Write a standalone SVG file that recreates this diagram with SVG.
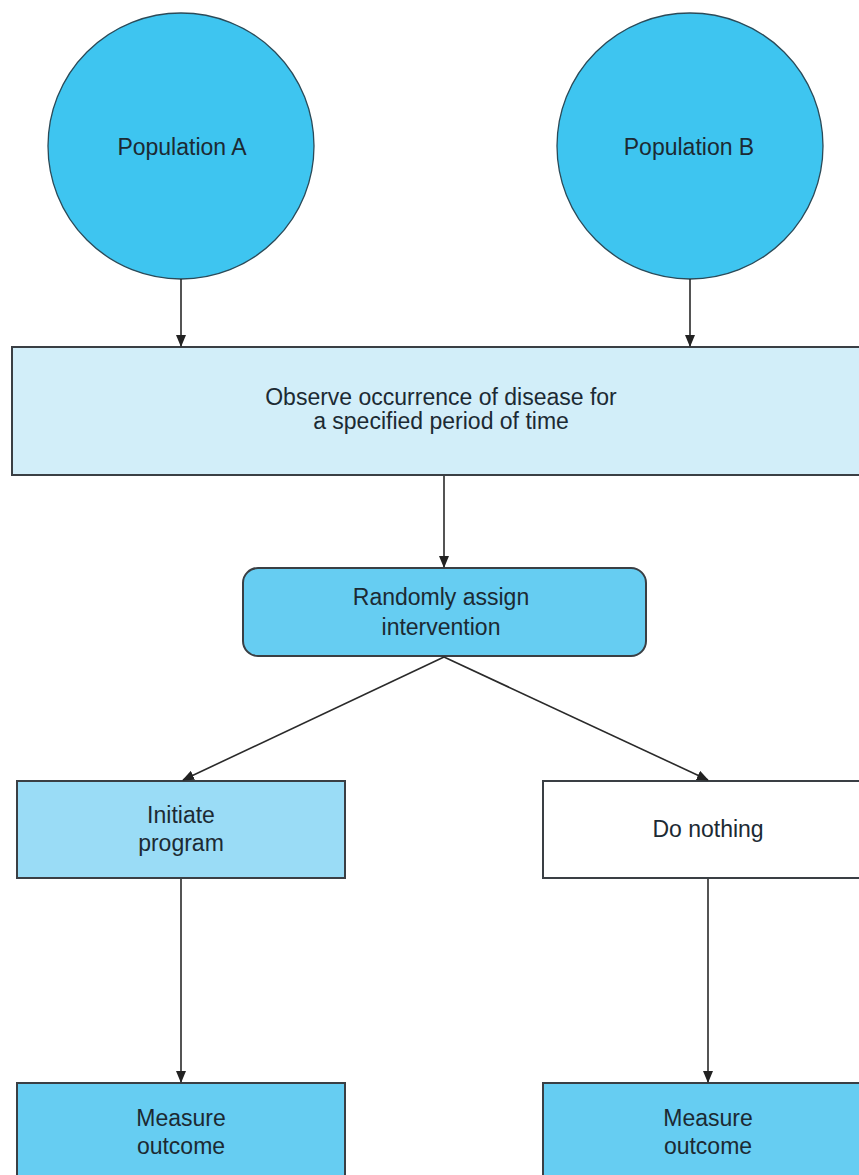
<svg xmlns="http://www.w3.org/2000/svg" width="859" height="1175" viewBox="0 0 859 1175">
<defs>
<marker id="arr" markerWidth="12" markerHeight="10" refX="11" refY="5" orient="auto" markerUnits="userSpaceOnUse" viewBox="0 0 12 10">
<path d="M0,0 L12,5 L0,10 z" fill="#222"/>
</marker>
<style>
.t{font-family:"Liberation Sans",Arial,sans-serif;font-size:23px;fill:#1c2a33;text-anchor:middle}
.box{stroke:#3a3f44;stroke-width:2}
.con{stroke:#2a2a2a;stroke-width:1.6;fill:none;marker-end:url(#arr)}
</style>
</defs>
<rect width="859" height="1175" fill="#ffffff"/>
<g id="popA">
<circle cx="181" cy="146" r="133" fill="#3ec5f0" stroke="#2b4a58" stroke-width="1.3"/>
<text class="t" x="182" y="155">Population A</text>
</g>
<g id="popB">
<circle cx="690" cy="146" r="133" fill="#3ec5f0" stroke="#2b4a58" stroke-width="1.3"/>
<text class="t" x="689" y="155">Population B</text>
</g>
<g id="observe">
<rect class="box" x="12" y="347" width="860" height="128" fill="#d2eef9"/>
<text class="t" x="441" y="405">Observe occurrence of disease for</text>
<text class="t" x="441" y="429">a specified period of time</text>
</g>
<g id="randomly">
<rect class="box" x="243" y="568" width="403" height="88" rx="15" fill="#66cdf2"/>
<text class="t" x="441" y="605">Randomly assign</text>
<text class="t" x="441" y="635">intervention</text>
</g>
<g id="initiate">
<rect class="box" x="17" y="781" width="328" height="97" fill="#9adcf6" stroke="#5a7f90"/>
<text class="t" x="181" y="823">Initiate</text>
<text class="t" x="181" y="851">program</text>
</g>
<g id="nothing">
<rect class="box" x="543" y="781" width="330" height="97" fill="#ffffff"/>
<text class="t" x="708" y="837">Do nothing</text>
</g>
<g id="measureA">
<rect class="box" x="17" y="1083" width="328" height="110" fill="#66cdf2"/>
<text class="t" x="181" y="1126">Measure</text>
<text class="t" x="181" y="1154">outcome</text>
</g>
<g id="measureB">
<rect class="box" x="543" y="1083" width="330" height="110" fill="#66cdf2"/>
<text class="t" x="708" y="1126">Measure</text>
<text class="t" x="708" y="1154">outcome</text>
</g>
<g id="connectors">
<line class="con" x1="181" y1="279" x2="181" y2="346"/>
<line class="con" x1="690" y1="279" x2="690" y2="346"/>
<line class="con" x1="444" y1="476" x2="444" y2="567"/>
<line class="con" x1="444" y1="657" x2="183" y2="780"/>
<line class="con" x1="444" y1="657" x2="708" y2="780"/>
<line class="con" x1="181" y1="879" x2="181" y2="1082"/>
<line class="con" x1="708" y1="879" x2="708" y2="1082"/>
</g>
</svg>
